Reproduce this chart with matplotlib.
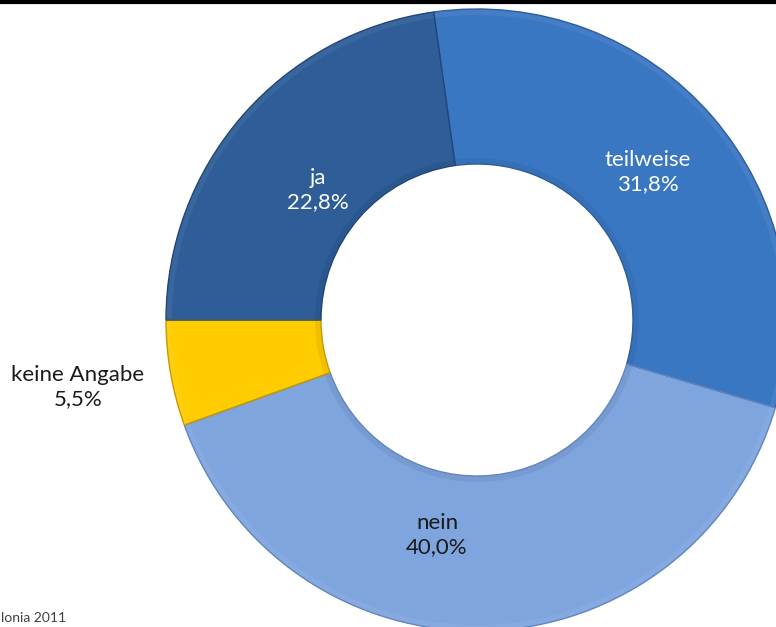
import matplotlib.pyplot as plt
from matplotlib.patches import Wedge

# Umfrageergebnis, im Uhrzeigersinn ab 12 Uhr
labels = ['teilweise', 'nein', 'keine Angabe', 'ja']
shares = [31.8, 40.0, 5.5, 22.8]
colors = ['#3a77c3', '#7fa5de', '#ffcc00', '#2e5d98']
edge_colors = ['#2c5d9c', '#5f86bf', '#c79a00', '#22467a']
text_colors = ['white', '#1a1a1a', '#1a1a1a', 'white']
label_pos = [(648, 455), (437, 92), (78, 240), (318, 437)]

plt.rcParams['font.family'] = ['Lato', 'DejaVu Sans']

fig = plt.figure(figsize=(7.76, 6.27), dpi=100)
ax = fig.add_axes([0, 0, 1, 1])

cx, cy = 477, 307
r_out, r_in = 311, 156

wedges, _ = ax.pie(shares, colors=colors, startangle=98, counterclock=False,
                   radius=r_out, center=(cx, cy), frame=True,
                   wedgeprops=dict(width=r_out - r_in, linewidth=0))
ax.set_xlim(0, 776)
ax.set_ylim(0, 627)
ax.set_aspect('equal')
ax.axis('off')

# dezente Kanten und Schatten am Innenrand
for w, ec in zip(wedges, edge_colors):
    t1, t2 = w.theta1, w.theta2
    ax.add_patch(Wedge((cx, cy), r_out, t1, t2, width=6, facecolor='white', alpha=0.06, lw=0))
    ax.add_patch(Wedge((cx, cy), r_in + 6, t1, t2, width=6, facecolor='black', alpha=0.06, lw=0))
    ax.add_patch(Wedge((cx, cy), r_out, t1, t2, width=r_out - r_in, facecolor='none',
                       edgecolor=ec, lw=1.0))

for lab, val, (x, y), tc in zip(labels, shares, label_pos, text_colors):
    txt = f"{lab}\n{val:.1f}%".replace('.', ',')
    ax.text(x, y, txt, ha='center', va='center', fontsize=16, color=tc, linespacing=1.25)

# Rahmenlinie oben
ax.plot([0, 776], [625, 625], color='black', lw=3, solid_capstyle='butt', clip_on=False)

ax.text(1, 9, 'lonia 2011', ha='left', va='center', fontsize=10, color='#404040')

fig.savefig('out.png', dpi=100)
